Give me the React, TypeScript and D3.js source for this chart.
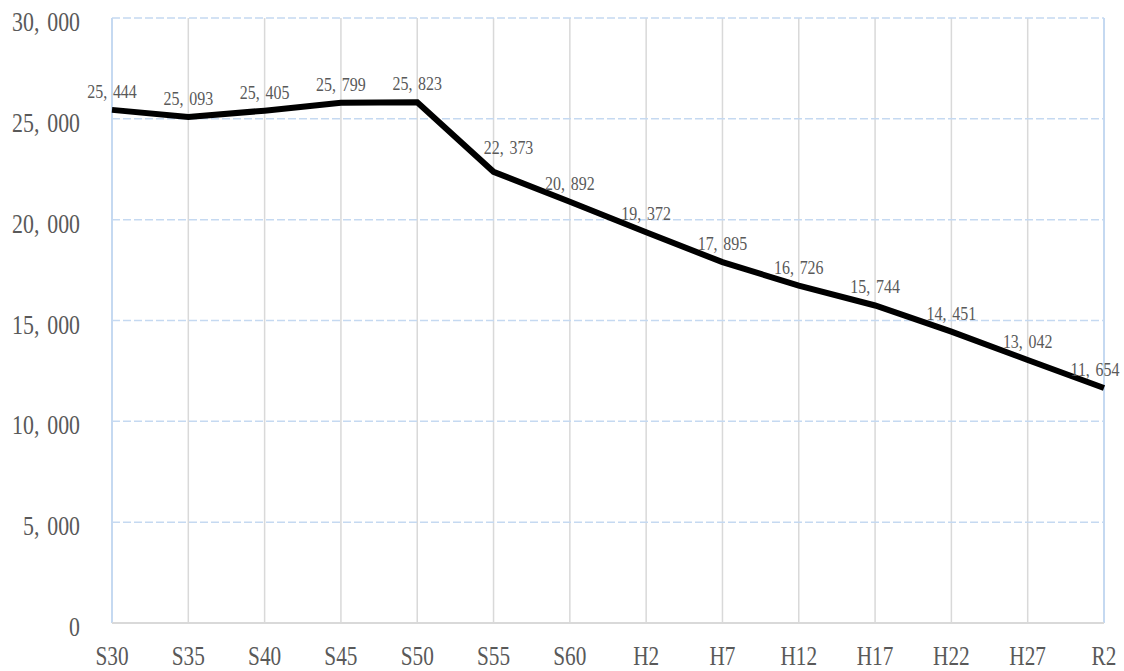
import React from "react";
import * as d3 from "d3";

const categories = ["S30", "S35", "S40", "S45", "S50", "S55", "S60", "H2", "H7", "H12", "H17", "H22", "H27", "R2"];
const values = [25444, 25093, 25405, 25799, 25823, 22373, 20892, 19372, 17895, 16726, 15744, 14451, 13042, 11654];
const yTicks = [0, 5000, 10000, 15000, 20000, 25000, 30000];

const W = 1124;
const H = 671;
const M = { left: 112, right: 20, top: 18, bottom: 48 };
const FONT = "'Liberation Serif', 'DejaVu Serif', serif";
const TXT = "#595959";
// manually moved label in the original (S55)
const labelNudge: Record<string, [number, number]> = { S55: [15, -6] };

// Renders a number with a Japanese-style full-width comma gap
function NumLabel(props: { x: number; y: number; v: number; size: number; anchor: string; sx: number }) {
  const s = d3.format(",")(props.v);
  const parts = s.split(",");
  const gap = props.size * 0.36;
  return (
    <g transform={`translate(${props.x},${props.y}) scale(${props.sx},1)`}>
      <text textAnchor={props.anchor} fontFamily={FONT} fontSize={props.size} fill={TXT}>
        {parts.map((p, i) => (
          <tspan key={i} dx={i > 0 ? gap : 0}>
            {p + (i < parts.length - 1 ? "," : "")}
          </tspan>
        ))}
      </text>
    </g>
  );
}

export default function App() {
  const x = d3.scalePoint<string>().domain(categories).range([M.left, W - M.right]);
  const y = d3.scaleLinear().domain([0, 30000]).range([H - M.bottom, M.top]);
  const line = d3
    .line<number>()
    .x((_, i) => x(categories[i]) as number)
    .y((d) => y(d));

  return (
    <div style={{ position: "absolute", left: 0, top: 0 }}>
      <svg width={W} height={H} style={{ display: "block", background: "#fff" }}>
        {categories.map((c, i) => {
          const edge = i === 0 || i === categories.length - 1;
          return (
            <line
              key={"v" + c}
              x1={x(c)}
              x2={x(c)}
              y1={y(30000)}
              y2={y(0)}
              stroke={edge ? "#c5d9f1" : "#d9d9d9"}
              strokeWidth={edge ? 2 : 1.5}
            />
          );
        })}
        {yTicks.map((t) =>
          t === 0 ? (
            <line key={"h" + t} x1={M.left} x2={W - M.right} y1={y(t)} y2={y(t)} stroke="#d9d9d9" strokeWidth={2} />
          ) : (
            <line
              key={"h" + t}
              x1={M.left}
              x2={W - M.right}
              y1={y(t)}
              y2={y(t)}
              stroke="#c5d9f1"
              strokeWidth={1.5}
              strokeDasharray="8,3"
            />
          )
        )}
        {yTicks.map((t) => (
          <NumLabel key={"yl" + t} x={80} y={y(t) + 13} v={t} size={28} anchor="end" sx={0.78} />
        ))}
        {categories.map((c) => (
          <g key={"xl" + c} transform={`translate(${x(c)},665) scale(0.76,1)`}>
            <text textAnchor="middle" fontFamily={FONT} fontSize={28} fill={TXT}>
              {c}
            </text>
          </g>
        ))}
        <path d={line(values) || ""} fill="none" stroke="#000" strokeWidth={6} strokeLinejoin="miter" />
        {values.map((v, i) => {
          const c = categories[i];
          const px = x(c) as number;
          const n = labelNudge[c] || [0, 0];
          return (
            <NumLabel
              key={"dl" + i}
              x={Math.min(px + n[0], W - 29)}
              y={y(v) - 12 + n[1]}
              v={v}
              size={19}
              anchor="middle"
              sx={0.84}
            />
          );
        })}
      </svg>
    </div>
  );
}
